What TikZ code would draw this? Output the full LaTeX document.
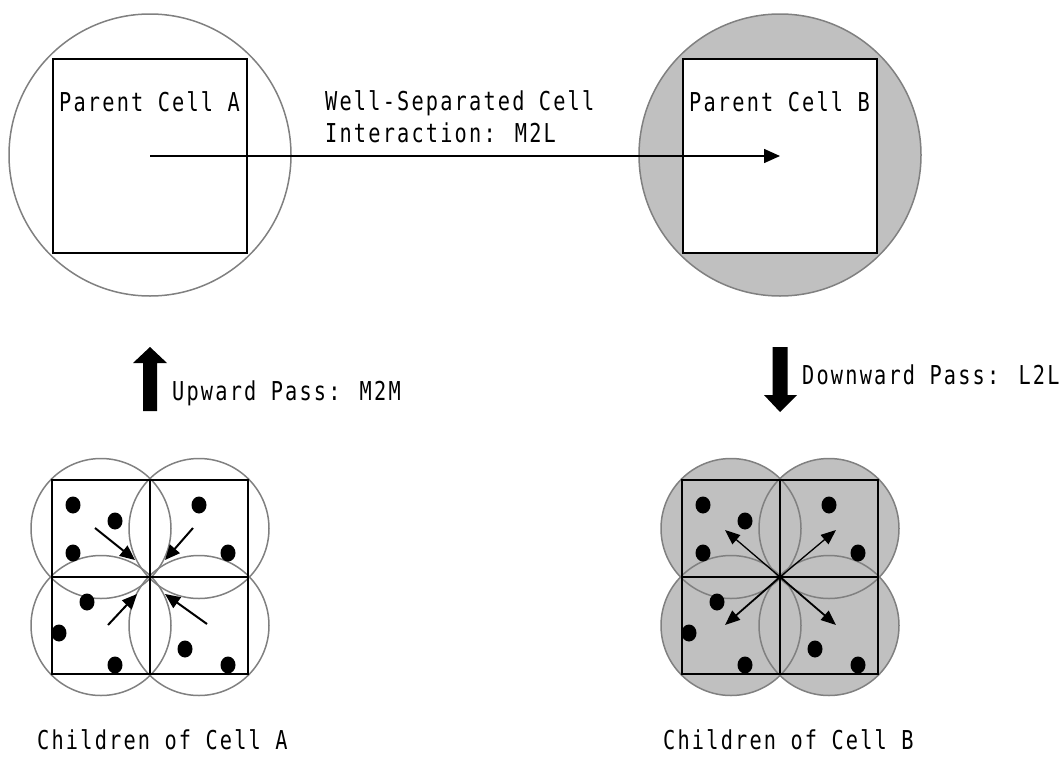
\documentclass[tikz,border=0pt]{standalone}
\usepackage{fontspec}
\newfontfamily\lblfont[FakeStretch=0.78,LetterSpace=8.4]{DejaVu Sans Mono}
\usetikzlibrary{arrows.meta}
\definecolor{ringgray}{RGB}{128,128,128}
\definecolor{fillgray}{RGB}{192,192,192}
\begin{document}
\begin{tikzpicture}[x=1pt,y=-1pt,
  bigring/.style={circle, draw=ringgray, line width=1.5pt, minimum size=282pt, inner sep=0pt},
  bigsq/.style={rectangle, draw=black, line width=2pt, minimum size=194pt, inner sep=0pt},
  smallring/.style={circle, draw=ringgray, line width=1.5pt, minimum size=140pt, inner sep=0pt},
  smallsq/.style={rectangle, draw=black, line width=2pt, minimum width=98pt, minimum height=97pt, inner sep=0pt},
  lbl/.style={anchor=base west, inner sep=0pt, font=\lblfont\fontsize{26pt}{30pt}\selectfont},
  blockarrow/.style={fill=black},
  kidarrow/.style={-{Triangle[length=15pt,width=13pt]}, line width=2pt},
  outarrow/.style={-{Triangle[length=15pt,width=12pt]}, line width=1.3pt}
]
\useasboundingbox (0,0) rectangle (1060,758);

% ---------- Parent cell A ----------
\node[bigring] (ringA) at (150,155) {};
\node[bigsq] (sqA) at (150,156) {};
\node[lbl] (labA) at (59,111) {Parent Cell A};

% ---------- Parent cell B ----------
\node[bigring, fill=fillgray] (ringB) at (780,155) {};
\node[bigsq, fill=white] (sqB) at (780,156) {};
\node[lbl] (labB) at (689,111) {Parent Cell B};

% ---------- M2L arrow ----------
\draw[-{Triangle[length=16pt,width=14pt]}, line width=1.5pt] (sqA.center) -- (sqB.center);
\node[lbl] (labM1) at (325,110) {Well-Separated Cell};
\node[lbl] (labM2) at (325,142) {Interaction: M2L};

% ---------- Upward block arrow ----------
\fill[blockarrow] (143,411) -- (143,363) -- (133,363) -- (150,347) -- (167,363) -- (157,363) -- (157,411) -- cycle;
\node[lbl] (labUp) at (172,400) {Upward Pass: M2M};

% ---------- Downward block arrow ----------
\fill[blockarrow] (772.5,347) -- (787.5,347) -- (787.5,395) -- (797,395) -- (780,412) -- (764,395) -- (772.5,395) -- cycle;
\node[lbl] (labDown) at (802,384) {Downward Pass: L2L};

% ---------- Children of A ----------
\node[smallring] (cA1) at (101,528.5) {};
\node[smallring] (cA2) at (199,528.5) {};
\node[smallring] (cA3) at (101,625.5) {};
\node[smallring] (cA4) at (199,625.5) {};
\node[smallsq] (sA1) at (101,528.5) {};
\node[smallsq] (sA2) at (199,528.5) {};
\node[smallsq] (sA3) at (101,625.5) {};
\node[smallsq] (sA4) at (199,625.5) {};
\foreach \px/\py in {73/505,115/521,73/553,199/505,228/553,87/602,59/633,115/665,185/649,228/665}
  \fill (\px,\py) ellipse [x radius=7.5pt, y radius=8.5pt];
\coordinate (a1s) at (95,528);  \coordinate (a1e) at (135,560);
\coordinate (a2s) at (193,528); \coordinate (a2e) at (165,560);
\coordinate (a3s) at (108,625); \coordinate (a3e) at (137,594);
\coordinate (a4s) at (207,624); \coordinate (a4e) at (165,594);
\draw[kidarrow] (a1s) -- (a1e);
\draw[kidarrow] (a2s) -- (a2e);
\draw[kidarrow] (a3s) -- (a3e);
\draw[kidarrow] (a4s) -- (a4e);
\node[lbl] (labCA) at (37,749) {Children of Cell A};

% ---------- Children of B ----------
\node[smallring, draw=none, fill=fillgray] (fB1) at (731,528.5) {};
\node[smallring, draw=none, fill=fillgray] (fB2) at (829,528.5) {};
\node[smallring, draw=none, fill=fillgray] (fB3) at (731,625.5) {};
\node[smallring, draw=none, fill=fillgray] (fB4) at (829,625.5) {};
\node[smallring] (cB1) at (731,528.5) {};
\node[smallring] (cB2) at (829,528.5) {};
\node[smallring] (cB3) at (731,625.5) {};
\node[smallring] (cB4) at (829,625.5) {};
\node[smallsq] (sB1) at (731,528.5) {};
\node[smallsq] (sB2) at (829,528.5) {};
\node[smallsq] (sB3) at (731,625.5) {};
\node[smallsq] (sB4) at (829,625.5) {};
\foreach \px/\py in {73/505,115/521,73/553,199/505,228/553,87/602,59/633,115/665,185/649,228/665}
  \fill ({\px+630},\py) ellipse [x radius=7.5pt, y radius=8.5pt];
\coordinate (bc) at (780,577);
\coordinate (b1e) at (725,530);
\coordinate (b2e) at (836,530);
\coordinate (b3e) at (725,625);
\coordinate (b4e) at (836,625);
\draw[outarrow] (bc) -- (b1e);
\draw[outarrow] (bc) -- (b2e);
\draw[outarrow, line width=1.8pt] (bc) -- (b3e);
\draw[outarrow, line width=1.8pt] (bc) -- (b4e);
\node[lbl] (labCB) at (663,749) {Children of Cell B};
\end{tikzpicture}
\end{document}
